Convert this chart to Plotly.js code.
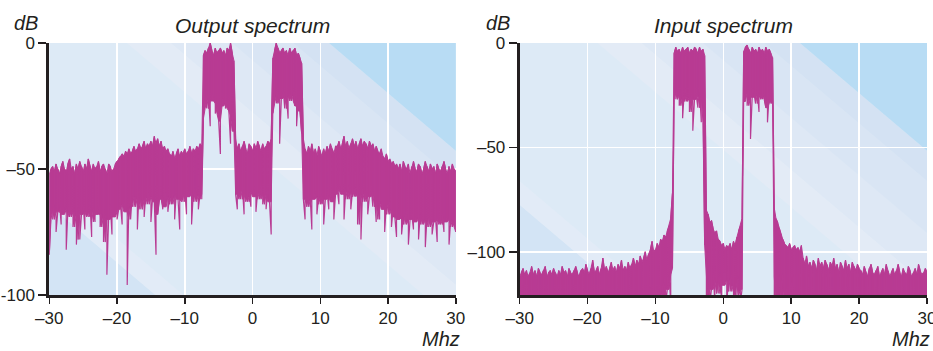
<!DOCTYPE html>
<html>
<head>
<meta charset="utf-8">
<script src="https://cdn.plot.ly/plotly-3.0.1.min.js"></script>
<style>html,body{margin:0;padding:0;background:#fff;}#chart{width:933px;height:351px;}</style>
</head>
<body>
<div id="chart"></div>
<script>
// Frequency grid (MHz): samples from -30 to 30 every 0.25 MHz
const freqStart = -30;
const freqStep = 0.25;

const xTickVals = [-30, -20, -10, 0, 10, 20, 30];
const xTickText = ['\u201330', '\u201320', '\u201310', '0', '10', '20', '30'];
const outYTickVals = [0, -50, -100];
const outYTickText = ['0', '\u201350', '-100'];
const inYTickVals = [0, -50, -100];
const inYTickText = ['0', '\u201350', '\u2013100'];

// Output spectrum: upper and lower edge of the noisy trace at each sample (dB)
const outHi = [
-52,-50,-49,-51,-48,-50,-52,-49,-47,-50,
-51,-48,-46,-50,-49,-52,-48,-50,-47,-49,
-51,-48,-50,-46,-49,-51,-48,-50,-49,-47,
-51,-49,-48,-50,-52,-48,-49,-51,-50,-48,
-47,-46,-45,-44,-45,-43,-44,-42,-44,-43,
-41,-43,-42,-40,-42,-41,-39,-42,-40,-41,
-39,-41,-37,-40,-38,-41,-39,-42,-41,-43,
-42,-44,
-45,-43,-46,-44,-42,-45,-43,-44,-42,-44,
-43,-41,-44,-42,-43,-41,-42,-40,-41,
-5,-3,-4,-2,0,-3,-5,-2,-4,-3,-2,-4,-3,-5,-2,-3,0,-4,-7,
-38,-42,-40,-43,-41,-39,-42,-44,-40,-41,-43,-40,-42,-39,-41,-43,-40,-42,-41,-39,-40,-38,
-6,-3,0,-2,-4,-3,-2,-4,-3,-5,-2,-4,-3,-2,-5,-4,-6,-8,
-38,-42,-44,-41,-43,-40,-44,-42,-45,-41,-43,-45,-42,-44,-41,-43,-40,-42,-44,-41,
-41,-39,-42,-40,-37,-41,-39,-42,-40,-38,-41,-39,-42,-40,-38,-41,-39,-40,-42,-39,-41,-40,-43,-41,
-43,-44,-42,-45,-46,-44,-47,-46,-48,-47,-49,-48,
-50,-48,-51,-47,-49,-50,-48,-52,-49,-47,
-50,-51,-48,-49,-52,-50,-47,-49,-51,-48,
-50,-49,-52,-48,-50,-51,-49,-47,-50,-52,
-49,-51,-48,-50,-51
];
const outLo = [
-84,-66,-70,-64,-75,-67,-63,-72,-68,-65,
-82,-66,-69,-64,-73,-67,-80,-65,-78,-68,
-64,-74,-67,-69,-63,-77,-66,-71,-68,-65,
-73,-68,-79,-66,-92,-70,-64,-76,-69,-67,
-70,-66,-64,-72,-62,-67,-96,-63,-70,-60,
-65,-61,-74,-59,-66,-62,-69,-60,-64,-58,
-71,-61,-63,-84,-68,-62,-60,-66,-65,-58,
-67,-61,
-64,-60,-70,-59,-62,-74,-60,-63,-58,-68,
-61,-59,-72,-60,-63,-58,-66,-60,-62,
-30,-22,-26,-21,-33,-23,-20,-28,-24,-31,-44,-25,-21,-26,-24,-27,-40,-29,-35,
-60,-66,-58,-62,-57,-68,-60,-63,-59,-65,-58,-61,-67,-59,-62,-57,-64,-60,-66,-58,-63,-76,
-28,-21,-24,-19,-40,-22,-18,-26,-21,-30,-20,-23,-19,-25,-33,-22,-27,-36,
-62,-70,-60,-65,-61,-74,-62,-59,-68,-61,-64,-60,-72,-62,-59,-66,-61,-63,-70,-60,
-58,-64,-57,-60,-70,-58,-62,-56,-66,-59,-61,-57,-72,-60,-78,-58,-63,-59,-68,-61,-57,-65,-60,-71,
-63,-70,-62,-66,-75,-64,-68,-63,-73,-66,-69,-77,
-70,-68,-76,-69,-72,-67,-80,-70,-68,-74,
-71,-69,-78,-68,-72,-70,-81,-69,-73,-68,
-76,-71,-69,-79,-70,-72,-68,-75,-71,-69,
-80,-70,-73,-68,-75
];

// Input spectrum: upper and lower edge of the noisy trace (dB); the floor runs below the axis
const inHi = [
-112,-110,-108,-111,-109,-112,-110,-107,-111,-109,
-112,-108,-110,-111,-109,-107,-112,-110,-109,-111,
-108,-110,-112,-109,-111,-107,-110,-109,-112,-108,
-110,-111,-109,-107,-110,-112,-109,
-108,-110,-106,-109,-111,-108,-104,-110,-109,-107,
-111,-108,-103,-109,-107,-110,-108,-105,-109,-107,
-110,-106,-108,-104,-109,
-107,-109,-105,-108,-106,-103,-107,-104,-106,-102,
-105,-103,-100,-104,-101,-99,-95,-100,
-99,-96,-98,-94,-95,-92,-93,-90,-88,-84,-72,
-5,-2,-4,-3,-5,-2,-4,-3,-2,-5,-3,-4,-2,-3,-5,-2,-4,-3,-6,
-80,-82,-86,-85,-89,-91,-90,-94,-95,-97,-96,-99,-97,-98,-96,-99,-95,-97,-93,-90,-88,-84,
-4,-2,-1,-3,-5,-2,-4,-3,-5,-2,-4,-3,-5,-2,-4,-3,-5,-7,
-79,-84,-86,-89,-92,-94,-96,-97,-98,-96,-99,
-98,-97,-99,-98,-100,-97,
-103,-106,-102,-107,-105,-108,-104,-106,-109,-103,
-107,-105,-108,-104,-106,-109,-105,-107,-103,-108,
-106,-110,-105,-107,-109,-104,-108,-106,-110,-105,
-107,-109,-106,-108,
-109,-111,-107,-110,-112,-108,-106,-110,-111,-109,
-107,-112,-110,-108,-111,-106,-109,-112,-110,-108,
-111,-109,-106,-110,-112,-108,-110,-111,-107,-109,
-112,-110,-108,-111,-106,-109,-111,-110,-108,-110
];
const inLo = [
-125,-125,-125,-125,-125,-125,-125,-125,-125,-125,
-125,-125,-125,-125,-125,-125,-125,-125,-125,-125,
-125,-125,-125,-125,-125,-125,-125,-125,-125,-125,
-125,-125,-125,-125,-125,-125,-125,-125,-125,-125,
-125,-125,-125,-125,-125,-125,-125,-125,-125,-125,
-125,-125,-125,-125,-125,-125,-125,-125,-125,-125,
-125,-125,-125,-125,-125,-125,-125,-125,-125,-125,
-125,-125,-125,-125,-125,-125,-125,-117,-125,-125,
-125,-116,-125,-119,-125,-113,-125,-118,-111,-125,-108,
-24,-27,-22,-30,-25,-36,-23,-28,-26,-33,-24,-42,-27,-25,-31,-23,-38,-26,-97,
-125,-112,-125,-118,-109,-125,-114,-120,-110,-125,-116,-108,-125,-113,-119,-111,-125,-115,-121,-110,-125,-118,
-28,-24,-30,-22,-46,-26,-24,-29,-23,-33,-25,-27,-24,-31,-38,-25,-29,-28,
-125,-112,-125,-119,-125,-110,-125,-117,-125,-125,-114,-125,-120,-125,-125,-118,-125,
-125,-125,-125,-125,-125,-125,-125,-125,-125,-125,
-125,-125,-125,-125,-125,-125,-125,-125,-125,-125,
-125,-125,-125,-125,-125,-125,-125,-125,-125,-125,
-125,-125,-125,-125,-125,-125,-125,-125,-125,-125,
-125,-125,-125,-125,-125,-125,-125,-125,-125,-125,
-125,-125,-125,-125,-125,-125,-125,-125,-125,-125,
-125,-125,-125,-125,-125,-125,-125,-125,-125,-125,
-125,-125,-125,-125
];

function freqAt(i) { return freqStart + i * freqStep; }

// Thin trace that sweeps between the upper and lower edge at every sample
function sweep(hi, lo) {
  const xs = [], ys = [];
  for (let i = 0; i < hi.length; i++) {
    const f = freqAt(i);
    xs.push(f, f);
    if (i % 2 === 0) ys.push(hi[i], lo[i]); else ys.push(lo[i], hi[i]);
  }
  return {xs, ys};
}
// Solid body: filled between the upper edge and the typical (median of 3) lower edge
function body(hi, lo) {
  const n = hi.length, xs = [], ys = [];
  for (let i = 0; i < n; i++) { xs.push(freqAt(i)); ys.push(hi[i]); }
  for (let i = n - 1; i >= 0; i--) {
    const a = lo[Math.max(0, i - 1)], b = lo[i], c = lo[Math.min(n - 1, i + 1)];
    const m = [a, b, c].sort((p, q) => p - q)[1];
    xs.push(freqAt(i)); ys.push(Math.min(m, hi[i]));
  }
  return {xs, ys};
}

const ink = '#231f20';
const magenta = '#b83b93';
const font = 'Liberation Sans, Arial, Helvetica, sans-serif';

const outT = sweep(outHi, outLo), inT = sweep(inHi, inLo);
const outB = body(outHi, outLo), inB = body(inHi, inLo);

function bodyTrace(b, xa, ya) {
  return {x: b.xs, y: b.ys, xaxis: xa, yaxis: ya, type: 'scatter', mode: 'lines', fill: 'toself',
          fillcolor: magenta, line: {color: magenta, width: 1}, hoverinfo: 'skip', showlegend: false};
}
function sweepTrace(t, xa, ya) {
  return {x: t.xs, y: t.ys, xaxis: xa, yaxis: ya, type: 'scatter', mode: 'lines',
          line: {color: magenta, width: 1.2}, hoverinfo: 'skip', showlegend: false};
}
const traces = [
  bodyTrace(outB, 'x', 'y'), sweepTrace(outT, 'x', 'y'),
  bodyTrace(inB, 'x2', 'y2'), sweepTrace(inT, 'x2', 'y2')
];

// Decorative diagonal background bands (in plot-area fractions)
const slope = 1.37;
const bands = [
  {a0: -3, a1: -0.469, color: '#d3e4f5'},
  {a0: -0.469, a1: -0.40, color: '#e2ebf7'},
  {a0: 0.191, a1: 0.30, color: '#e3ebf6'},
  {a0: 0.30, a1: 0.45, color: '#dee8f5'},
  {a0: 0.45, a1: 0.60, color: '#d9e5f4'},
  {a0: 0.60, a1: 0.688, color: '#d4e2f3'},
  {a0: 0.688, a1: 3, color: '#b8dcf4'}
];
function bandShapes(xref, yref, xr, yr) {
  const toX = u => xr[0] + u * (xr[1] - xr[0]);
  const toY = v => yr[1] - v * (yr[1] - yr[0]);
  return bands.map(b => {
    const p = [[b.a0, 0], [b.a1, 0], [b.a1 + 1 / slope, 1], [b.a0 + 1 / slope, 1]];
    const path = 'M' + p.map(q => toX(q[0]) + ',' + toY(q[1])).join(' L') + ' Z';
    return {type: 'path', path, xref, yref, layer: 'below', fillcolor: b.color, line: {width: 0}};
  });
}

const outYRange = [-100, 0];
const inYRange = [-120.7, 0];

const xCommon = {
  range: [-30, 30], tickvals: xTickVals, ticktext: xTickText,
  showgrid: true, gridcolor: '#ffffff', gridwidth: 1.5, zeroline: false,
  showline: true, linewidth: 3, linecolor: ink,
  ticks: 'outside', ticklen: 6, tickwidth: 1.5, tickcolor: ink, ticklabeloverflow: 'allow',
  tickfont: {family: font, size: 17, color: ink}, fixedrange: true
};
const yCommon = {
  showgrid: true, gridcolor: '#ffffff', gridwidth: 1.5, zeroline: false,
  showline: true, linewidth: 3, linecolor: ink,
  ticks: 'outside', ticklen: 8, tickwidth: 1.5, tickcolor: ink, ticklabeloverflow: 'allow',
  tickfont: {family: font, size: 17, color: ink}, fixedrange: true
};

const yDom = [1 - 295 / 351, 1 - 43 / 351];
const tFont = {family: font, size: 20, color: ink};

const layout = {
  width: 933, height: 351,
  margin: {l: 0, r: 0, t: 0, b: 0},
  paper_bgcolor: '#ffffff', plot_bgcolor: '#ddeaf6',
  showlegend: false,
  xaxis: Object.assign({}, xCommon, {domain: [49.3 / 933, 455.8 / 933], anchor: 'y'}),
  yaxis: Object.assign({}, yCommon, {domain: yDom, anchor: 'x', range: outYRange, tickvals: outYTickVals, ticktext: outYTickText}),
  xaxis2: Object.assign({}, xCommon, {domain: [519.7 / 933, 927 / 933], anchor: 'y2'}),
  yaxis2: Object.assign({}, yCommon, {domain: yDom, anchor: 'x2', range: inYRange, tickvals: inYTickVals, ticktext: inYTickText}),
  shapes: bandShapes('x', 'y', [-30, 30], outYRange).concat(bandShapes('x2', 'y2', [-30, 30], inYRange)),
  annotations: [
    {text: '<i>Output spectrum</i>', xref: 'paper', yref: 'paper', x: 253 / 933, y: 1 - 25 / 351,
     xanchor: 'center', yanchor: 'middle', showarrow: false, font: {family: font, size: 21, color: ink}},
    {text: '<i>Input spectrum</i>', xref: 'paper', yref: 'paper', x: 723 / 933, y: 1 - 25 / 351,
     xanchor: 'center', yanchor: 'middle', showarrow: false, font: {family: font, size: 21, color: ink}},
    {text: '<i>dB</i>', xref: 'paper', yref: 'paper', x: 12 / 933, y: 1 - 23 / 351,
     xanchor: 'left', yanchor: 'middle', showarrow: false, font: tFont},
    {text: '<i>dB</i>', xref: 'paper', yref: 'paper', x: 484 / 933, y: 1 - 23 / 351,
     xanchor: 'left', yanchor: 'middle', showarrow: false, font: tFont},
    {text: '<i>Mhz</i>', xref: 'paper', yref: 'paper', x: 462 / 933, y: 1 - 339 / 351,
     xanchor: 'right', yanchor: 'middle', showarrow: false, font: tFont},
    {text: '<i>Mhz</i>', xref: 'paper', yref: 'paper', x: 932 / 933, y: 1 - 339 / 351,
     xanchor: 'right', yanchor: 'middle', showarrow: false, font: tFont}
  ]
};

Plotly.newPlot('chart', traces, layout, {staticPlot: true, displayModeBar: false});
</script>
</body>
</html>
